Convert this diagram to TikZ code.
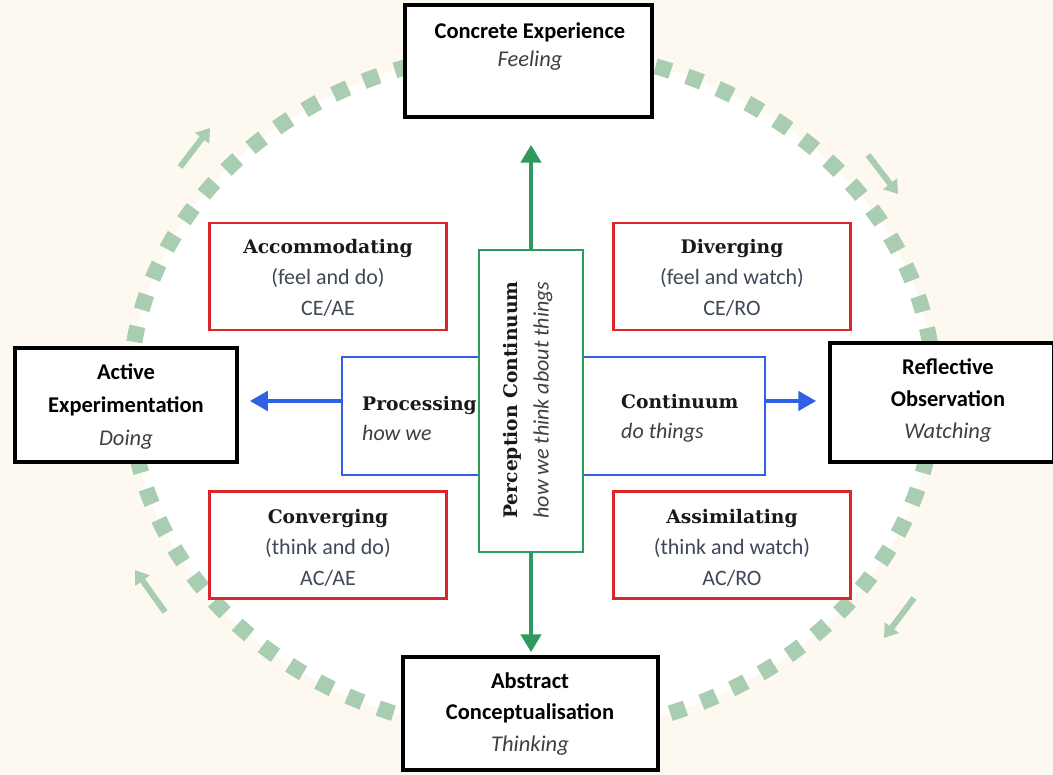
\documentclass[tikz,border=0pt]{standalone}
\usepackage{fontspec}
\setsansfont{Carlito}
\newfontfamily\titleserif{DejaVu Serif}
\usetikzlibrary{arrows.meta}
\definecolor{cream}{HTML}{FEF9F0}
\definecolor{sage}{HTML}{A9CDB1}
\definecolor{boxred}{HTML}{D9262A}
\definecolor{boxblue}{HTML}{3060E6}
\definecolor{boxgreen}{HTML}{2E9A5E}
\definecolor{subc}{HTML}{3F4858}
\definecolor{itc}{HTML}{404040}
\newcommand{\ttl}[1]{{\titleserif\bfseries\fontsize{18.7}{31}\selectfont\color{black!90}#1}}
\begin{document}
\begin{tikzpicture}[x=1pt,y=-1pt,
  blackbox/.style={draw=black, line width=3.5pt, fill=white, inner sep=0pt},
  redbox/.style={draw=boxred, line width=2.8pt, fill=white, inner sep=0pt, minimum width=237pt, minimum height=107pt},
  btxt/.style={font=\sffamily\fontsize{22.5}{32}\selectfont, align=center, inner sep=0pt, text=black},
  rtxt/.style={font=\sffamily\fontsize{22}{31}\selectfont, align=center, inner sep=0pt, text=subc},
  ptxt/.style={font=\sffamily\fontsize{22}{30}\selectfont, align=left, inner sep=0pt, anchor=west},
  cyclearrow/.style={draw=sage, line width=6pt, -{Triangle[width=17pt,length=13pt]}},
  greenarrow/.style={draw=boxgreen, line width=4.5pt, -{Triangle[width=20pt,length=18pt]}},
  bluearrow/.style={draw=boxblue, line width=4.5pt, -{Triangle[width=19pt,length=18pt]}}
]
\useasboundingbox (0,0) rectangle (1053,775);
\fill[cream] (0,0) rectangle (1053,775);
% cycle ellipse
\fill[white] (532,392) ellipse [x radius=402, y radius=342];
\draw[sage, line width=16pt, dash pattern=on 16pt off 17pt] (532,392) ellipse [x radius=402, y radius=342];
% cycle arrows
\coordinate (tl1) at (180,167); \coordinate (tl2) at (210,128);
\coordinate (tr1) at (868,155); \coordinate (tr2) at (898,194);
\coordinate (br1) at (914,598); \coordinate (br2) at (884,638);
\coordinate (bl1) at (165,612); \coordinate (bl2) at (135,570);
\draw[cyclearrow] (tl1) -- (tl2);
\draw[cyclearrow] (tr1) -- (tr2);
\draw[cyclearrow] (br1) -- (br2);
\draw[cyclearrow] (bl1) -- (bl2);

% outer black boxes
\node[blackbox, minimum width=247pt, minimum height=112pt] (ce) at (528.5,61) {};
\node[btxt, font=\sffamily\fontsize{22.5}{28}\selectfont] (cet) at (530,47) {\textbf{Concrete Experience}\\\textcolor{itc}{\textit{Feeling}}};
\node[blackbox, minimum width=222pt, minimum height=114pt] (ae) at (126,405) {};
\node[btxt, font=\sffamily\fontsize{22.5}{33}\selectfont] (aet) at (126,407) {\textbf{Active}\\\textbf{Experimentation}\\\textcolor{itc}{\textit{Doing}}};
\node[blackbox, minimum width=224pt, minimum height=119pt] (ro) at (942,402.5) {};
\node[btxt] (rot) at (948,401) {\textbf{Reflective}\\\textbf{Observation}\\\textcolor{itc}{\textit{Watching}}};
\node[blackbox, minimum width=255pt, minimum height=113pt] (ac) at (530.5,713.5) {};
\node[btxt, font=\sffamily\fontsize{22.5}{31.5}\selectfont] (act) at (530,714) {\textbf{Abstract}\\\textbf{Conceptualisation}\\\textcolor{itc}{\textit{Thinking}}};

% learning style boxes
\node[redbox] (acc) at (328,276.5) {};
\node[rtxt] (acct) at (328,278) {\ttl{Accommodating}\\(feel and do)\\CE/AE};
\node[redbox] (div) at (732,276.5) {};
\node[rtxt] (divt) at (732,278) {\ttl{Diverging}\\(feel and watch)\\CE/RO};
\node[redbox] (con) at (328,545) {};
\node[rtxt] (cont) at (328,548) {\ttl{Converging}\\(think and do)\\AC/AE};
\node[redbox] (ass) at (732,545) {};
\node[rtxt] (asst) at (732,548) {\ttl{Assimilating}\\(think and watch)\\AC/RO};

% processing continuum (blue)
\node[draw=boxblue, line width=2.8pt, fill=white, minimum width=423pt, minimum height=118pt, inner sep=0pt] (proc) at (553.5,416) {};
% perception continuum (green)
\node[draw=boxgreen, line width=2.8pt, fill=white, minimum width=104pt, minimum height=302pt, inner sep=0pt] (perc) at (531,401) {};
\node[rotate=90, align=center, inner sep=0pt, font=\sffamily\fontsize{22}{31}\selectfont] (perct) at (528,400) {\ttl{Perception Continuum}\\\textcolor{itc}{\textit{how we think about things}}};
\node[ptxt] (proct) at (362,418) {\ttl{Processing}\\\textcolor{itc}{\textit{how we}}};
\node[ptxt] (contt) at (621,418) {\ttl{Continuum}\\\textcolor{itc}{\textit{do things}}};

% connectors
\draw[greenarrow, shorten >=26pt] (perc.north) -- (perc.north |- ce.south);
\draw[greenarrow, shorten >=3pt] (perc.south) -- (perc.south |- ac.north);
\draw[bluearrow, shorten >=11pt] (proc.west |- perc.center) -- (ae.east |- perc.center);
\draw[bluearrow, shorten >=12pt] (proc.east |- perc.center) -- (ro.west |- perc.center);
\end{tikzpicture}
\end{document}
